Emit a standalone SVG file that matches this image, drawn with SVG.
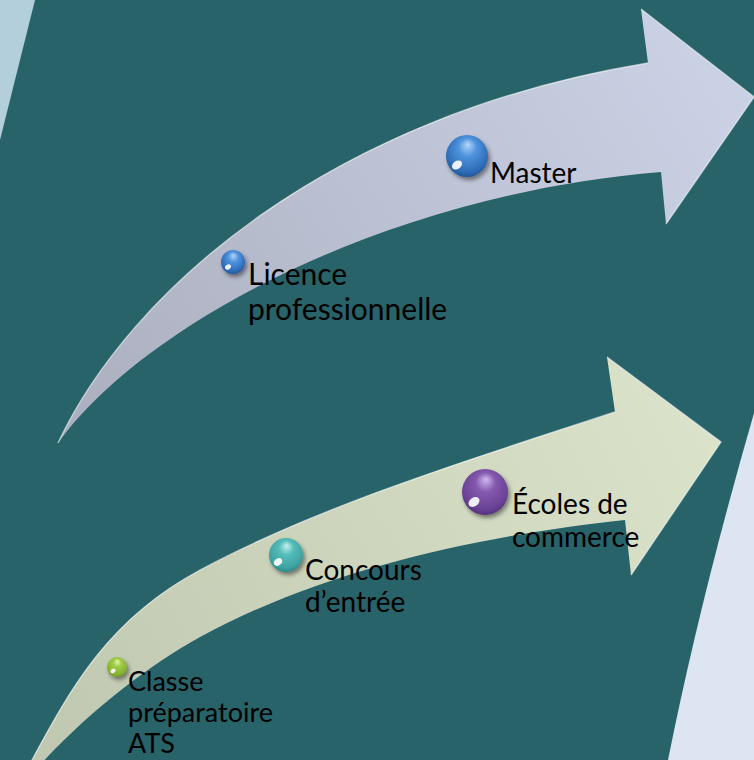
<svg xmlns="http://www.w3.org/2000/svg" width="754" height="760" viewBox="0 0 754 760">
<style>
.lbl{font-family:Lato,"Open Sans","Liberation Sans",sans-serif;font-size:28px;fill:#000}
.big{font-size:30px}
.sm{font-size:27px}
.bevel{fill:none;stroke:#ffffff;stroke-opacity:.55;stroke-width:1.4}
.refl{fill:#fff;opacity:.9}
</style>
<defs>
<linearGradient id="gTop" gradientUnits="userSpaceOnUse" x1="700" y1="60" x2="60" y2="440">
<stop offset="0" stop-color="#cad1e4"/><stop offset="1" stop-color="#abafbf"/>
</linearGradient>
<linearGradient id="gBot" gradientUnits="userSpaceOnUse" x1="700" y1="420" x2="20" y2="780">
<stop offset="0" stop-color="#dae2c9"/><stop offset="1" stop-color="#c0c7b0"/>
</linearGradient>
<radialGradient id="bBlue" cx="50%" cy="42%" r="62%" fx="52%" fy="22%">
<stop offset="0" stop-color="#b5d8f8"/><stop offset=".35" stop-color="#4f93de"/><stop offset=".8" stop-color="#2e6db9"/><stop offset="1" stop-color="#1f4e8a"/>
</radialGradient>
<radialGradient id="bPurple" cx="50%" cy="42%" r="62%" fx="52%" fy="22%">
<stop offset="0" stop-color="#d2b8ef"/><stop offset=".35" stop-color="#8359ad"/><stop offset=".8" stop-color="#6a4296"/><stop offset="1" stop-color="#4b2c73"/>
</radialGradient>
<radialGradient id="bTeal" cx="50%" cy="42%" r="62%" fx="52%" fy="22%">
<stop offset="0" stop-color="#c2f1ee"/><stop offset=".35" stop-color="#55bcb9"/><stop offset=".8" stop-color="#3ea4a2"/><stop offset="1" stop-color="#2a7c7a"/>
</radialGradient>
<radialGradient id="bGreen" cx="50%" cy="42%" r="62%" fx="52%" fy="22%">
<stop offset="0" stop-color="#e2f5a8"/><stop offset=".35" stop-color="#9fca45"/><stop offset=".8" stop-color="#86b32f"/><stop offset="1" stop-color="#628a1f"/>
</radialGradient>
<filter id="sh" x="-50%" y="-50%" width="200%" height="200%">
<feDropShadow dx="2" dy="3" stdDeviation="2" flood-color="#000" flood-opacity=".45"/>
</filter>
</defs>

<rect width="754" height="760" fill="#29636a"/>
<polygon points="0,0 35,0 0,140" fill="#b3cfdc"/>
<path d="M754,413 L754,760 L668,760 Q700,600 754,413 Z" fill="#dce5f1"/>

<g id="arrows">
<g id="arrow-top">
<path d="M58,443 C130,290 330,115 648,63 L641,9 L754,97 L666,224 L661,172 C380,195 140,328 58,443 Z" fill="url(#gTop)"/>
<path class="bevel" d="M58,443 C130,290 330,115 648,63 M641,9 L754,97 L666,224"/>
</g>
<g id="arrow-bottom">
<path d="M10,800 C60,712 92,628 200,570 C321,505 475,458 615,412 L607,357 L721,442 L631,575 L625,520 C495,534 332,565 200,637 C140,670 65,730 10,800 Z" fill="url(#gBot)"/>
<path class="bevel" d="M10,800 C60,712 92,628 200,570 C321,505 475,458 615,412 M607,357 L721,442 L631,575"/>
</g>
</g>

<g id="node-licence">
<circle cx="233" cy="262" r="12" fill="url(#bBlue)" filter="url(#sh)"/>
<ellipse class="refl" cx="228" cy="267" rx="3.2" ry="2.4" transform="rotate(-35 228 267)"/>
<text class="lbl big" x="248" y="285">Licence</text>
<text class="lbl big" x="248" y="320">professionnelle</text>
</g>

<g id="node-master">
<circle cx="467" cy="156" r="21" fill="url(#bBlue)" filter="url(#sh)"/>
<ellipse class="refl" cx="457" cy="165" rx="5.5" ry="4" transform="rotate(-35 457 165)"/>
<text class="lbl" x="490" y="183">Master</text>
</g>

<g id="node-classe">
<circle cx="117" cy="667" r="10" fill="url(#bGreen)" filter="url(#sh)"/>
<ellipse class="refl" cx="113" cy="671" rx="2.8" ry="2" transform="rotate(-35 113 671)"/>
<text class="lbl sm" x="128" y="691">Classe</text>
<text class="lbl sm" x="128" y="722">préparatoire</text>
<text class="lbl sm" x="128" y="753">ATS</text>
</g>

<g id="node-concours">
<circle cx="286" cy="555" r="17" fill="url(#bTeal)" filter="url(#sh)"/>
<ellipse class="refl" cx="278" cy="562" rx="4.5" ry="3.3" transform="rotate(-35 278 562)"/>
<text class="lbl" x="305" y="580">Concours</text>
<text class="lbl" x="305" y="612">d’entrée</text>
</g>

<g id="node-ecoles">
<circle cx="485" cy="492" r="23" fill="url(#bPurple)" filter="url(#sh)"/>
<ellipse class="refl" cx="474" cy="502" rx="6" ry="4.3" transform="rotate(-35 474 502)"/>
<text class="lbl" x="512" y="514">Écoles de</text>
<text class="lbl" x="512" y="547">commerce</text>
</g>
</svg>
